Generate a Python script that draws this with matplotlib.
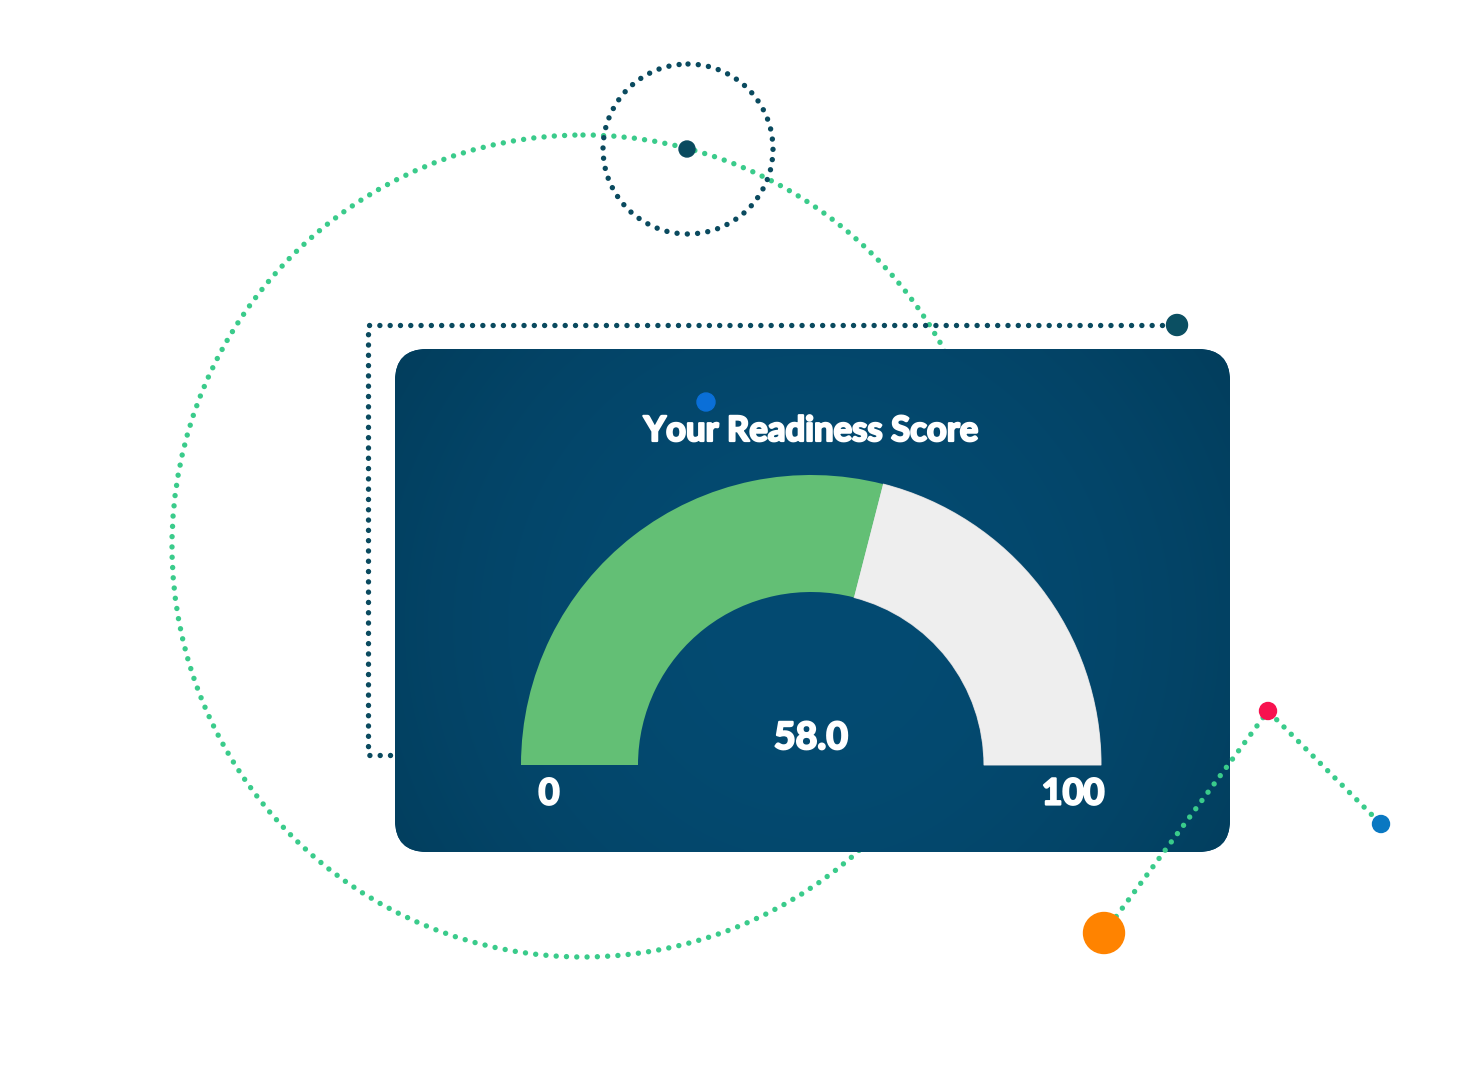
import numpy as np
import matplotlib
matplotlib.use("Agg")
import matplotlib.pyplot as plt
import matplotlib.patheffects as pe
from matplotlib.patches import Circle, Wedge, FancyBboxPatch

# ---- data ----
title = "Your Readiness Score"
score = 58.0
gauge_min = 0
gauge_max = 100
min_label = "0"
max_label = "100"

W, H = 1475, 1080
fig = plt.figure(figsize=(W / 100, H / 100), dpi=100)
ax = fig.add_axes([0, 0, 1, 1])
ax.set_xlim(0, W)
ax.set_ylim(H, 0)
ax.set_aspect("equal")
ax.axis("off")

GREEN_DOT = "#3acb8b"
DARK = "#0a4a5f"
LW = 3.9
DASH = (0, (0.001, 1.9))

def dotted(lw=LW):
    return dict(linestyle=DASH, linewidth=lw, dash_capstyle="round")

# big green dotted circle (behind card)
c = Circle((583, 546), 411, fill=False, edgecolor=GREEN_DOT, zorder=1,
           linestyle=DASH, linewidth=LW)
c.set_capstyle("round")
ax.add_patch(c)

# small dark dotted circle
c2 = Circle((688, 149), 85, fill=False, edgecolor=DARK, zorder=2,
            linestyle=DASH, linewidth=LW)
c2.set_capstyle("round")
ax.add_patch(c2)
ax.add_patch(Circle((687, 149), 8, color=DARK, zorder=3))

# dark dotted bracket
ax.plot([390, 368, 368, 1170], [755, 755, 325, 325], color=DARK, zorder=2,
        **dotted())
ax.add_patch(Circle((1177, 325), 10.5, color="#0b4f62", zorder=3))

# card with gradient
x0, y0, x1, y1 = 395, 349, 1230, 852
card = FancyBboxPatch((x0, y0), x1 - x0, y1 - y0,
                      boxstyle="round,pad=0,rounding_size=32",
                      facecolor="#03476c", edgecolor="none", zorder=4)
ax.add_patch(card)
nx, ny = 200, 120
xx = np.linspace(0, 1, nx)
yy = np.linspace(0, 1, ny)
X, Y = np.meshgrid(xx, yy)
t = np.clip(1 - ((X - 0.5) ** 2 * 2.2 + (Y - 0.55) ** 2 * 0.8), 0, 1)
c_dark = np.array([0x02, 0x3a, 0x57]) / 255
c_light = np.array([0x04, 0x4b, 0x72]) / 255
img = c_dark[None, None, :] * (1 - t[..., None]) + c_light[None, None, :] * t[..., None]
im = ax.imshow(img, extent=(x0, x1, y1, y0), zorder=4.5, interpolation="bilinear")
im.set_clip_path(card)

# small blue dot on card
ax.add_patch(Circle((706, 402), 9, color="#0a6fd8", zorder=6))

heavy = [pe.withStroke(linewidth=1.6, foreground="white")]

# title
ax.text(811, 431, title, ha="center", va="center", color="white",
        fontsize=25, fontweight="bold", family="Lato", zorder=7,
        path_effects=heavy)

# gauge
cx, cy = 811, 765
r_out, r_in = 290, 173
frac = (score - gauge_min) / (gauge_max - gauge_min)
ang = 180 - frac * 180
ax.add_patch(Wedge((cx, cy), r_out, -180, -ang, width=r_out - r_in,
                   facecolor="#63bf75", edgecolor="none", zorder=6))
ax.add_patch(Wedge((cx, cy), r_out, -ang, 0, width=r_out - r_in,
                   facecolor="#eeeeee", edgecolor="#c8cdd2", linewidth=0.8, zorder=5.9))
ax.add_patch(Wedge((cx, cy), r_out, -ang, 0, width=r_out - r_in,
                   facecolor="#eeeeee", edgecolor="none", zorder=6))

ax.text(cx, 738, f"{score:.1f}", ha="center", va="center", color="white",
        fontsize=27, fontweight="bold", family="Lato", zorder=7,
        path_effects=heavy)
ax.text(549, 794, min_label, ha="center", va="center", color="white",
        fontsize=26, fontweight="bold", family="Lato", zorder=7,
        path_effects=heavy)
ax.text(1073, 794, max_label, ha="center", va="center", color="white",
        fontsize=26, fontweight="bold", family="Lato", zorder=7,
        path_effects=heavy)

# green dotted polyline with coloured dots (over card)
ax.plot([1104, 1268, 1381], [933, 711, 824], color=GREEN_DOT, zorder=8,
        **dotted())
ax.add_patch(Circle((1104, 933), 20.5, color="#ff8300", zorder=9))
ax.add_patch(Circle((1268, 711), 8.5, color="#f7124f", zorder=9))
ax.add_patch(Circle((1381, 824), 8.5, color="#0a78c2", zorder=9))

fig.savefig("out.png", dpi=100, facecolor="white")
